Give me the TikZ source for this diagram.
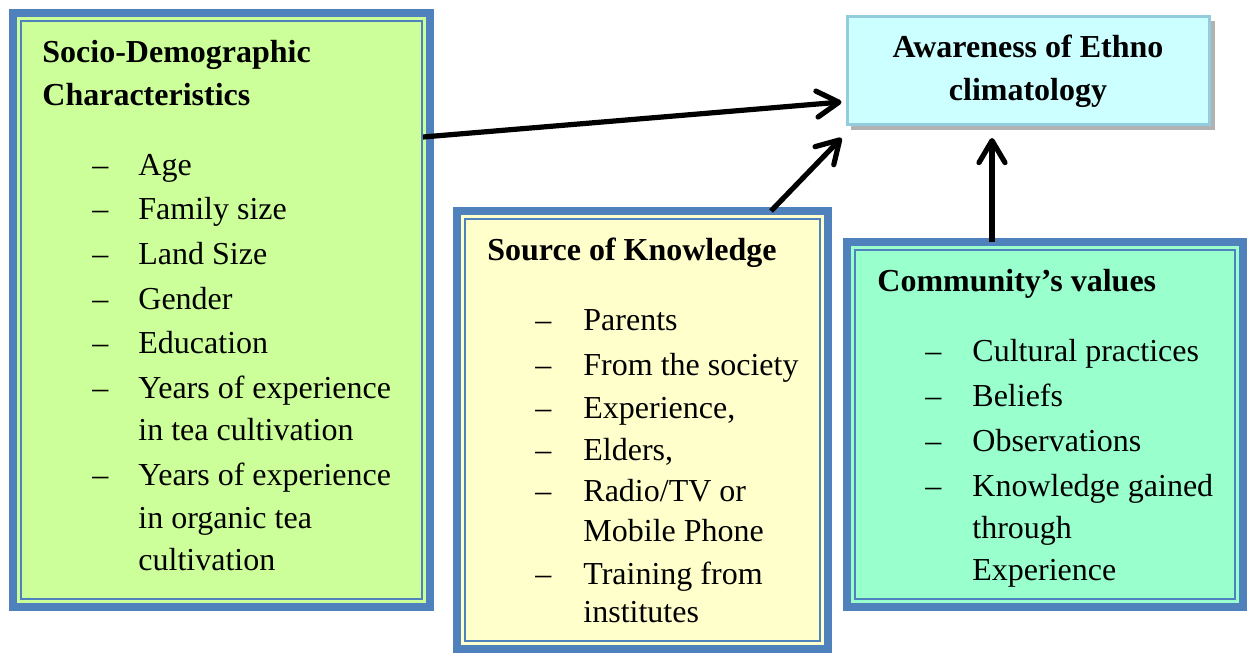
\documentclass[tikz,border=0pt]{standalone}
\usepackage{fontspec}
\setmainfont{Liberation Serif}
\usetikzlibrary{arrows.meta}
\definecolor{frameblue}{HTML}{4F81BD}
\definecolor{greenfill}{HTML}{CCFF99}
\definecolor{yellowfill}{HTML}{FFFFCC}
\definecolor{mintfill}{HTML}{99FFCC}
\definecolor{cyanfill}{HTML}{CCFFFF}
\definecolor{cyanedge}{HTML}{93CDDD}
\tikzset{
  framebox/.style={draw=frameblue, line width=4pt, outer sep=0pt, inner sep=0pt, rectangle},
  innerline/.style={draw=frameblue, line width=1.35pt},
  goalbox/.style={draw=cyanedge, fill=cyanfill, line width=1.5pt, outer sep=0pt, inner sep=0pt, rectangle},
  arr/.style={line width=2.6pt, -{Straight Barb[length=11pt,width=13pt,round]}},
  txt/.style={anchor=base west, inner sep=0pt, font=\fontsize{16pt}{22pt}\selectfont},
  head/.style={txt, font=\fontsize{16pt}{22pt}\selectfont\bfseries},
  bullet/.style={txt},
}
\begin{document}
\begin{tikzpicture}[x=0.5pt,y=-0.5pt]
\useasboundingbox (0,0) rectangle (1248,654);

% frames
\node[framebox, fill=greenfill, minimum width=208.5pt, minimum height=297pt] (b1) at (221.5,310) {};
\node[framebox, fill=yellowfill, minimum width=185.5pt, minimum height=219pt] (b2) at (642.5,430) {};
\node[framebox, fill=mintfill, minimum width=198pt, minimum height=182.5pt] (b3) at (1045,424.5) {};
\foreach \b in {b1,b2,b3}
  \draw[innerline] ([shift={(8,8)}]\b.north west) rectangle ([shift={(-8,-8)}]\b.south east);

% goal box with its shadow
\fill[black!30] (851,21) rectangle (1215,130);
\node[goalbox, minimum width=181pt, minimum height=54pt] (goal) at (1028.5,70.5) {};

% connectors
\coordinate (s1) at ([shift={(-7,-173)}]b1.east);
\coordinate (t1) at ([shift={(-6,31.5)}]goal.west);
\coordinate (s2) at ([shift={(128.5,0)}]b2.north);
\coordinate (t2) at ([shift={(-6,67.5)}]goal.west);
\coordinate (s3) at ([shift={(-53,0)}]b3.north);
\coordinate (t3) at ([shift={(-36.5,13.5)}]goal.south);
\draw[arr] (s1) -- (t1);
\draw[arr] (s2) -- (t2);
\draw[arr] (s3) -- (t3);

% goal text
\node[head, anchor=base] (g1) at (1028,57) {Awareness of Ethno};
\node[head, anchor=base] (g2) at (1028,100) {climatology};

% socio-demographic box
\node[head] (h1a) at (42,62) {Socio-Demographic};
\node[head] (h1b) at (42,105) {Characteristics};
\foreach \y in {175,219,264,309,353,398,485}
  \node[bullet] at (92,\y) {–};
\foreach \y/\t in {175/Age, 219/Family size, 264/Land Size, 309/Gender, 353/Education, 398/Years of experience, 440/in tea cultivation, 485/Years of experience, 528/in organic tea, 570/cultivation}
  \node[txt] at (138,\y) {\t};

% knowledge box
\node[head] (h2) at (487,260) {Source of Knowledge};
\foreach \y in {330,375,418,460,501,584}
  \node[bullet] at (535,\y) {–};
\foreach \y/\t in {330/Parents, 375/From the society, 418/{Experience,}, 460/{Elders,}, 501/{Radio/TV or}, 541/Mobile Phone, 584/Training from, 622/institutes}
  \node[txt] at (583,\y) {\t};

% values box
\node[head] (h3) at (877,291) {Community’s values};
\foreach \y in {361,406,451,496}
  \node[bullet] at (925,\y) {–};
\foreach \y/\t in {361/Cultural practices, 406/Beliefs, 451/Observations, 496/Knowledge gained, 538/through, 580/Experience}
  \node[txt] at (972,\y) {\t};
\end{tikzpicture}
\end{document}
